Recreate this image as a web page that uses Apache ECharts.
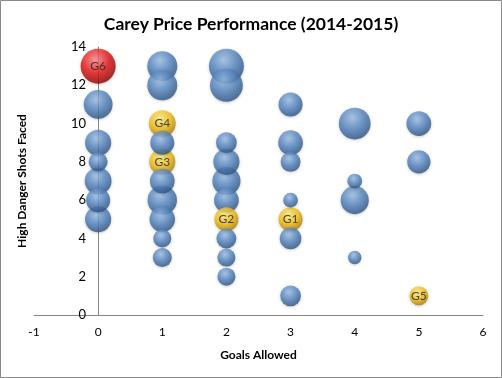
<!DOCTYPE html>
<html><head><meta charset="utf-8">
<script src="https://cdn.jsdelivr.net/npm/echarts@6/dist/echarts.min.js"></script>
<style>html,body{margin:0;padding:0;background:#fff}#c{width:502px;height:378px}</style>
</head><body><div id="c"></div>
<script>
var goals = [0,0,0,0,0,0,0, 1,1,1,1,1,1,1,1,1,1, 2,2,2,2,2,2,2,2,2,2, 3,3,3,3,3,3,3, 4,4,4,4, 5,5,5];
var shots = [13,11,9,8,7,6,5, 13,12,10,9,8,7,6,5,4,3, 13,12,9,8,7,6,5,4,3,2, 11,9,8,6,5,4,1, 10,7,6,3, 10,8,1];
var bubble = [34,23,19,10,20,16,19, 25,25,20,16,19,17,24,18,9,10, 34,30,12,19,22,17,16,11,9,9, 16,17,11,6,16,13,12, 28,6,22,5, 17,15,10];
var tags = ['G6','','','','','','', '','','G4','','G3','','','','','', '','','','','','','G2','','','', '','','','','G1','','', '','','','', '','','G5'];
var xTicks = [-1,0,1,2,3,4,5,6];
var yTicks = [0,2,4,6,8,10,12,14];

function grad(c0,c1,c2){return {type:'radial',x:0.42,y:0.32,r:0.7,colorStops:[{offset:0,color:c0},{offset:0.55,color:c1},{offset:1,color:c2}]};}
var blue = grad('#9dc0ea','#4f81bd','#2b5180');
var gold = grad('#fff08a','#f2bd12','#a87a00');
var red = grad('#ff8a8a','#e81010','#8a0000');

var data = goals.map(function(g,i){
  var t = tags[i];
  var col = t === 'G6' ? red : (t ? gold : blue);
  return {value:[g, shots[i], bubble[i]], name:t, itemStyle:{color:col}};
});
data.sort(function(a,b){return b.value[2]-a.value[2];});

var font = 'Lato, "Liberation Sans", sans-serif';
var gridLeft = 34, gridRight = 19;
var plotW = 502 - gridLeft - gridRight;
var zeroOffset = plotW * (0 - xTicks[0]) / (xTicks[xTicks.length-1] - xTicks[0]);
var chart = echarts.init(document.getElementById('c'), null, {renderer:'canvas'});
chart.setOption({
  animation:false,
  backgroundColor:'#fff',
  title:{text:'Carey Price Performance (2014-2015)', left:'center', top:10,
    textStyle:{fontFamily:font, fontSize:17.5, fontWeight:'bold', color:'#000'}},
  grid:{left:gridLeft, right:gridRight, top:47, bottom:63, containLabel:false, outerBoundsMode:'none'},
  xAxis:{type:'value', min:xTicks[0], max:xTicks[xTicks.length-1], interval:1,
    name:'Goals Allowed', nameLocation:'middle', nameGap:34,
    nameTextStyle:{fontFamily:font, fontSize:12, fontWeight:'bold', color:'#000'},
    axisLine:{lineStyle:{color:'#868686'}}, axisTick:{show:false},
    axisLabel:{fontFamily:font, fontSize:12, color:'#000', margin:11},
    splitLine:{show:false}},
  yAxis:{type:'value', min:yTicks[0], max:yTicks[yTicks.length-1], interval:2,
    offset:-zeroOffset,
    axisLine:{onZero:false, lineStyle:{color:'#868686'}}, axisTick:{show:false},
    axisLabel:{fontFamily:font, fontSize:13, color:'#000', margin:12},
    splitLine:{show:false}},
  graphic:[
    {type:'rect', shape:{x:0.5,y:0.5,width:501,height:377}, style:{fill:null, stroke:'#8a8a8a', lineWidth:1}, z:100},
    {type:'text', x:22, y:181, rotation:Math.PI/2, style:{text:'High Danger Shots Faced', fontFamily:font, fontSize:12, fontWeight:'bold', fill:'#000', align:'center', verticalAlign:'middle'}}
  ],
  series:[{type:'scatter', data:data,
    symbolSize:function(v){return 6*Math.sqrt(v[2]);},
    itemStyle:{shadowColor:'rgba(0,0,0,0.25)', shadowBlur:3, shadowOffsetY:1},
    label:{show:true, position:'inside', formatter:function(p){return p.name;},
      fontFamily:font, fontSize:12, color:'#222'}
  }]
});
</script></body></html>
